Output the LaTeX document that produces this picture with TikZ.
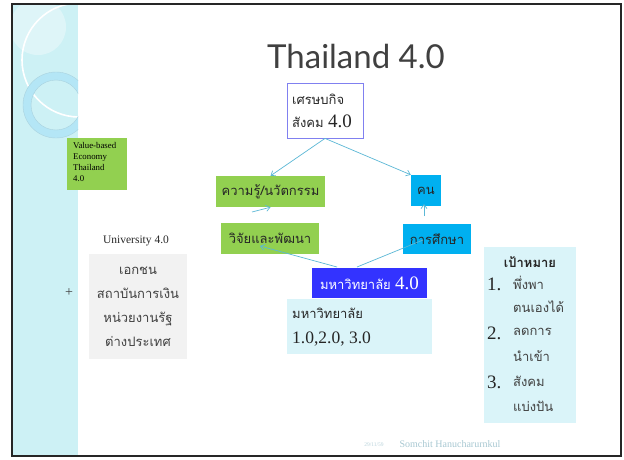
\documentclass[tikz,border=0pt]{standalone}
\usepackage{fontspec}
\setmainfont{Liberation Serif}
\newfontfamily\thai[Script=Thai]{Loma}
\newfontfamily\titlefont{Lato}
\usetikzlibrary{arrows.meta,calc}
\definecolor{grn}{HTML}{92D050}
\definecolor{cyn}{HTML}{00B0F0}
\definecolor{unib}{HTML}{3333FF}
\definecolor{pale}{HTML}{DAF4F9}
\definecolor{panel}{HTML}{CDF1F5}
\definecolor{ringc}{HTML}{B4E6F6}
\definecolor{conn}{HTML}{5BB8D6}
\definecolor{ecob}{HTML}{8080F0}
\definecolor{foot}{HTML}{A8C8D2}
\definecolor{txt}{HTML}{262626}
\definecolor{gtxt}{HTML}{404040}
\begin{document}
\begin{tikzpicture}[x=1pt,y=-1pt,
  box/.style={inner sep=0pt,anchor=center,text=txt,font=\thai\fontsize{13}{14}\selectfont},
  greenbox/.style={box,fill=grn},
  cyanbox/.style={box,fill=cyn},
  conarrow/.style={draw=conn,line width=0.7pt,-{Straight Barb[length=4pt,width=6pt]}},
  conline/.style={draw=conn,line width=0.7pt},
  plain/.style={inner sep=0pt},
  thaigoal/.style={plain,anchor=west,text=gtxt,font=\thai\fontsize{13}{14}\selectfont},
  numgoal/.style={plain,anchor=west,text=txt,font=\fontsize{19}{19}\selectfont}]
\useasboundingbox (0,0) rectangle (624,459);
\fill[white] (0,0) rectangle (624,459);
% left decorative panel
\begin{scope}
\clip (13,5) rectangle (78,455);
\fill[panel] (13,5) rectangle (78,455);
\fill[white,opacity=0.35] (38,27) circle (28);
\draw[white,line width=1.6pt] (79,60) circle (57);
\fill[ringc,even odd rule] (56,105) circle (33) (56,105) circle (25);
\draw[ringc!80!gray,line width=0.4pt] (56,105) circle (33) (56,105) circle (25);
\end{scope}
% frame
\draw[black!85,line width=2.5pt] (12,4) rectangle (621,456);
% title
\node[plain,text=gtxt,font=\titlefont\fontsize{33}{33}\selectfont] (title) at (356,56) {Thailand 4.0};
% main nodes
\node[box,draw=ecob,line width=0.8pt,fill=white,minimum width=76pt,minimum height=55pt] (eco) at (325,110.5) {};
\node[plain,anchor=west,align=left,text=txt,font=\thai\fontsize{13}{23}\selectfont] (ecotxt) at (292,111) {เศรษบกิจ\\สังคม {\rmfamily\fontsize{19}{19}\selectfont 4.0}};
\node[greenbox,minimum width=109pt,minimum height=31pt] (know) at (270.5,191.5) {ความรู้/นวัตกรรม};
\node[cyanbox,minimum width=30pt,minimum height=31pt] (kon) at (426,190.5) {คน};
\node[greenbox,minimum width=98pt,minimum height=31pt] (rnd) at (270,238.5) {วิจัยและพัฒนา};
\node[cyanbox,minimum width=68pt,minimum height=30pt] (edu) at (437,239) {การศึกษา};
\node[box,fill=unib,text=white,minimum width=115pt,minimum height=30pt] (uni) at (369.5,283) {มหาวิทยาลัย {\rmfamily\fontsize{19}{19}\selectfont 4.0}};
\node[box,fill=pale,minimum width=145pt,minimum height=55pt] (old) at (359.5,326.5) {};
\node[plain,anchor=west,align=left,text=txt,font=\thai\fontsize{13}{25}\selectfont] (oldtxt) at (292,327) {มหาวิทยาลัย\\{\rmfamily\fontsize{17.5}{17.5}\selectfont 1.0,2.0, 3.0}};
% left side
\node[box,fill=grn,minimum width=60pt,minimum height=52pt] (val) at (97,164) {};
\node[plain,anchor=north west,align=left,text=black,font=\fontsize{8.8}{11}\selectfont] (valtxt) at (73,142) {Value-based\\Economy\\Thailand\\4.0};
\node[plain,text=txt,font=\fontsize{11.5}{12}\selectfont] (ulabel) at (136,241) {University 4.0};
\node[box,fill=black!5,text=gtxt,align=center,minimum width=98pt,minimum height=105pt,font=\thai\fontsize{13}{24}\selectfont] (partners) at (138,306.5) {เอกชน\\สถาบันการเงิน\\หน่วยงานรัฐ\\ต่างประเทศ};
\node[plain,text=gtxt,font=\fontsize{14}{14}\selectfont] (plus) at (69,293) {+};
% goal box
\node[box,fill=pale,minimum width=92pt,minimum height=176pt] (goal) at (530,335) {};
\node[plain,text=txt,font=\thai\bfseries\fontsize{13}{14}\selectfont] (goalt) at (530,262) {เป้าหมาย};
\node[numgoal] (n1) at (487,284) {1.};
\node[thaigoal] (g1) at (513,283) {พึ่งพา};
\node[thaigoal] (g1b) at (513,307) {ตนเองได้};
\node[numgoal] (n2) at (487,333) {2.};
\node[thaigoal] (g2) at (513,332) {ลดการ};
\node[thaigoal] (g2b) at (513,356) {นำเข้า};
\node[numgoal] (n3) at (487,382) {3.};
\node[thaigoal] (g3) at (513,381) {สังคม};
\node[thaigoal] (g3b) at (513,406) {แบ่งปัน};
% footer
\node[plain,text=foot!80,font=\fontsize{5.5}{6}\selectfont] (date) at (374,445) {29/11/59};
\node[plain,text=foot,font=\fontsize{10}{11}\selectfont] (author) at (450,444) {Somchit Hanucharurnkul};
% connectors
\coordinate (s1) at (252,212);
\coordinate (r1) at (260,246);
\coordinate (u1) at (337,267);
\coordinate (u2) at (357,267);
\coordinate (e1) at (423,240);
\coordinate (e2) at (424,216);
\coordinate (k1) at (424,204);
\draw[conarrow] (eco.south) -- (know.north);
\draw[conarrow] (eco.south) -- (kon.north west);
\draw[conarrow] (s1) -- (know.south);
\draw[conarrow] (u1) -- (r1);
\draw[conline] (u2) -- (e1);
\draw[conarrow] (e2) -- (k1);
\end{tikzpicture}
\end{document}
